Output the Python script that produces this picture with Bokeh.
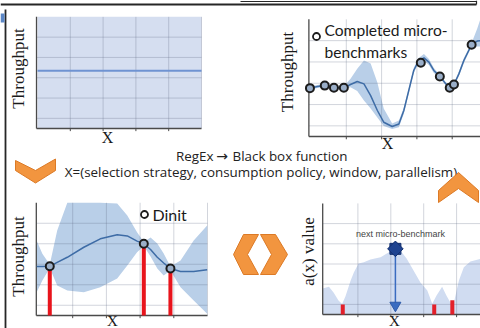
from math import pi
from bokeh.plotting import figure
from bokeh.models import Range1d
from bokeh.core.properties import value
from bokeh.embed import file_html
from bokeh.resources import INLINE

# ---------------- data ----------------
# Panel 1: prior model, flat mean with full uncertainty
p1_x = [0.0, 5.0]
p1_mean = [2.85, 2.85]
p1_lower = [0.0, 0.0]
p1_upper = [5.5, 5.5]

# Panel 2: completed micro-benchmarks and fitted model
p2_pts_x = [-0.03, 0.39, 0.65, 0.93, 3.11, 3.65, 3.93, 4.05, 4.55]
p2_pts_y = [2.27, 2.39, 2.29, 2.29, 3.46, 2.82, 2.29, 2.44, 4.31]
p2_x = [-0.03, 0.18, 0.39, 0.65, 0.93, 1.12, 1.31, 1.50, 1.69, 1.88, 2.06, 2.30,
        2.49, 2.63, 2.77, 2.91, 3.05, 3.20, 3.34, 3.48, 3.65, 3.82, 3.93, 4.05,
        4.19, 4.33, 4.55, 4.71, 4.86]
p2_mean = [2.27, 2.35, 2.39, 2.29, 2.29, 2.44, 2.58, 2.47, 1.92, 1.22, 0.67, 0.47,
           0.59, 1.22, 2.16, 3.10, 3.57, 3.69, 3.49, 3.10, 2.82, 2.47, 2.29, 2.44,
           2.94, 3.57, 4.31, 4.48, 4.51]
p2_upper = [2.34, 2.42, 2.46, 2.36, 2.36, 2.71, 3.18, 3.57, 3.43, 2.54, 1.31, 0.61,
            0.75, 1.36, 2.28, 3.22, 3.69, 3.87, 3.64, 3.22, 2.89, 2.56, 2.36, 2.51,
            3.05, 3.69, 4.39, 5.07, 5.82]
p2_lower = [2.20, 2.28, 2.32, 2.22, 2.22, 2.31, 2.14, 1.69, 1.31, 0.89, 0.49, 0.35,
            0.44, 1.07, 2.04, 2.98, 3.45, 3.54, 3.36, 2.98, 2.75, 2.39, 2.22, 2.37,
            2.84, 3.45, 4.23, 4.23, 4.23]

# Panel 3: initial design D_init and model
p3_pts_x = [0.32, 3.11, 3.90]
p3_pts_y = [2.40, 3.50, 2.29]
p3_x = [-0.07, 0.10, 0.32, 0.54, 0.84, 1.33, 1.82, 2.32, 2.62, 2.91, 3.11, 3.31,
        3.51, 3.70, 3.90, 4.20, 4.59, 4.99]
p3_mean = [2.39, 2.39, 2.40, 2.59, 2.84, 3.33, 3.74, 3.94, 3.88, 3.63, 3.50, 3.22,
           2.84, 2.56, 2.29, 2.15, 2.15, 2.23]
p3_upper = [3.66, 3.01, 2.49, 4.15, 5.50, 5.50, 5.50, 5.46, 4.88, 4.06, 3.59, 3.80,
            3.51, 3.02, 2.39, 2.68, 3.66, 4.39]
p3_lower = [1.14, 1.71, 2.32, 1.46, 1.22, 1.14, 1.38, 1.80, 2.44, 3.09, 3.39, 2.88,
            2.29, 1.95, 2.20, 1.38, 0.73, 0.08]

# Panel 4: acquisition function a(x)
p4_x = [-0.07, 0.12, 0.26, 0.41, 0.52, 0.62, 0.78, 0.88, 1.02, 1.18, 1.38, 1.69,
        1.93, 2.14, 2.29, 2.48, 2.70, 2.90, 3.11, 3.26, 3.39, 3.56, 3.69, 3.81,
        3.91, 4.07, 4.22, 4.42, 4.73, 4.95]
p4_acq = [1.29, 1.37, 1.09, 0.69, 0.52, 0.89, 1.68, 2.09, 2.52, 2.59, 2.72, 2.84,
          3.07, 3.25, 3.17, 2.77, 2.15, 1.58, 1.19, 0.53, 0.94, 1.37, 0.94, 0.59,
          0.53, 1.68, 2.34, 2.62, 2.76, 2.80]
p4_bars_x = [0.54, 3.32, 3.87]
p4_bars_h = [0.50, 0.50, 0.70]
p4_next_x = [2.14]
p4_next_y = [3.25]

# ---------------- layout (image pixel frame) ----------------
W, H = 480.0, 328.0


def Y(iy):
    return H - iy


# x0, px per x unit, y0 (pixel row of value 0), px per y unit, left edge, right edge
panels = {
    "p1": dict(x0=37.0, sx=32.8, y0=128.0, sy=20.3, xl=-0.03, xr=5.0),
    "p2": dict(x0=310.5, sx=35.3, y0=136.0, sy=21.3, xl=-0.06, xr=5.5),
    "p3": dict(x0=38.5, sx=33.7, y0=315.0, sy=20.5, xl=-0.08, xr=5.0),
    "p4": dict(x0=324.5, sx=32.9, y0=314.0, sy=20.2, xl=-0.07, xr=5.5),
}

p = figure(width=480, height=328, x_range=Range1d(0, W), y_range=Range1d(0, H),
           min_border=0, toolbar_location=None, output_backend="svg",
           x_axis_location=None, y_axis_location=None,
           background_fill_color="white", border_fill_color="white",
           outline_line_color=None)
p.grid.visible = False

SERIF = value("Liberation Serif")
SANS = value("Lato")
GRID = "rgba(95,105,130,0.28)"
AXIS = "#4a4a4a"
BAND = "#b9cfe8"
LINE = "#3e6ca6"


def sub_of(k):
    g = panels[k]
    return p.subplot(x_source=Range1d(0, 1), y_source=Range1d(0, 1),
                     x_target=Range1d(g["x0"], g["x0"] + g["sx"]),
                     y_target=Range1d(Y(g["y0"]), Y(g["y0"]) + g["sy"]))


def frame(s, k, right_line=True):
    g = panels[k]
    xl, xr = g["xl"], g["xr"]
    gx = [1, 2, 3, 4] + ([5] if right_line else [])
    s.segment(x0=gx, y0=[0] * len(gx), x1=gx, y1=[5.5] * len(gx),
              line_color=GRID, line_width=1)
    gy = [0.5, 1.5, 2.5, 3.5, 4.5]
    s.segment(x0=[xl] * 5, y0=gy, x1=[xr] * 5, y1=gy, line_color=GRID, line_width=1)
    s.segment(x0=[xl, xl], y0=[0, 0], x1=[xr, xl], y1=[0, 5.5],
              line_color=AXIS, line_width=1.3)
    tx = [1, 2, 3, 4]
    s.segment(x0=tx, y0=[0] * 4, x1=tx, y1=[-0.13] * 4, line_color=AXIS, line_width=1)


def label(ix, iy, txt, font, size, angle=0.0, color="#1a1a1a", align="center"):
    p.text(x=[ix], y=[Y(iy)], text=[txt], text_font=font, text_font_size=size,
           angle=angle, text_align=align, text_baseline="middle", text_color=color)


# ---- slide frame ----
p.segment(x0=[0, 240, 476, 5], y0=[Y(4), Y(1), Y(0), Y(9)],
          x1=[476, 476, 476, 5], y1=[Y(4), Y(1), Y(4), Y(328)],
          line_color="#262626", line_width=[1.8, 1.0, 1.2, 1.8])
p.quad(left=[0], right=[4], top=[Y(13)], bottom=[Y(22)], fill_color="#5b86c5",
       line_color=None)

# ---- panel 1 ----
s1 = sub_of("p1")
s1.varea(x=p1_x, y1=p1_lower, y2=p1_upper, fill_color="#d5def0")
frame(s1, "p1")
s1.line(p1_x, p1_mean, line_color="#6f93d2", line_width=2)
label(18, 68, "Throughput", SERIF, "17px", angle=pi / 2)
label(107, 137, "X", SERIF, "16px")

# ---- panel 2 ----
s2 = sub_of("p2")
s2.varea(x=p2_x, y1=p2_lower, y2=p2_upper, fill_color=BAND)
frame(s2, "p2", right_line=False)
s2.line(p2_x, p2_mean, line_color=LINE, line_width=1.5)
s2.scatter(p2_pts_x, p2_pts_y, size=8, fill_color="#9aaec8", line_color="#1c1c1c",
           line_width=2)
p.scatter([316], [Y(36)], size=7, fill_color="white", line_color="#1c1c1c", line_width=1.8)
label(324, 29, "Completed micro-", SANS, "15.6px", align="left")
label(324, 51, "benchmarks", SANS, "15.6px", align="left")
label(286.5, 71.5, "Throughput", SERIF, "17px", angle=pi / 2)
label(387, 143, "X", SERIF, "16px")

# ---- panel 3 ----
s3 = sub_of("p3")
s3.varea(x=p3_x, y1=p3_lower, y2=p3_upper, fill_color=BAND)
frame(s3, "p3")
s3.segment(x0=p3_pts_x, y0=[0] * 3, x1=p3_pts_x, y1=p3_pts_y, line_color="#e8141c",
           line_width=4)
s3.line(p3_x, p3_mean, line_color=LINE, line_width=1.5)
s3.scatter(p3_pts_x, p3_pts_y, size=8, fill_color="#9aaec8", line_color="#1c1c1c",
           line_width=2)
p.scatter([144], [Y(214)], size=7, fill_color="white", line_color="#1c1c1c", line_width=1.8)
label(152, 214, "Dinit", SANS, "16px", align="left")
label(18, 256, "Throughput", SERIF, "17px", angle=pi / 2)
label(112, 320.5, "X", SERIF, "15px")

# ---- panel 4 ----
s4 = sub_of("p4")
s4.varea(x=p4_x, y1=[0] * len(p4_x), y2=p4_acq, fill_color="#d0dcf1")
frame(s4, "p4", right_line=False)
s4.segment(x0=p4_bars_x, y0=[0] * 3, x1=p4_bars_x, y1=p4_bars_h, line_color="#e3202a",
           line_width=4)
s4.segment(x0=p4_next_x, y0=p4_next_y, x1=p4_next_x, y1=[0.35], line_color="#3a6cc0",
           line_width=1.5)
s4.scatter(p4_next_x, [0.45], marker="inverted_triangle", size=11, fill_color="#3a6cc0",
           line_color="#2d5aa8")
s4.scatter(p4_next_x * 2, p4_next_y * 2, marker="square", angle=[0, pi / 4], size=11,
           fill_color="#1f4390", line_color="#14306e", line_width=1)
label(400, 233.5, "next micro-benchmark", value("Liberation Sans"), "9px", color="#444444")
label(308, 251, "a(x) value", SERIF, "17px", angle=pi / 2)
label(394, 320.5, "X", SERIF, "15px")

# ---- middle text ----
MID = value("Open Sans")
label(213, 155, "RegEx", MID, "13.4px", color="#222222", align="right")
label(221.5, 155, "\u2192", value("DejaVu Sans"), "14px", color="#222222")
label(232, 155, "Black box function", MID, "13.4px", color="#222222", align="left")
label(260.5, 171.7, "X=(selection strategy, consumption policy, window, parallelism)",
      MID, "13.4px", color="#222222")

# ---- chevrons ----
ORANGE = "#f2953f"
EDGE = "#dc7a26"
down_chev_x = [15, 35, 55, 55, 35, 15]
down_chev_y = [160, 170, 158.5, 170, 182.5, 170]
up_chev_x = [438, 458, 478, 478, 458, 438]
up_chev_y = [190, 172, 190, 202, 188, 202]
left_chev_x = [243, 258, 247, 258, 243, 233]
left_chev_y = [234, 234, 254, 274, 274, 254]
right_chev_x = [260, 275, 287, 275, 260, 271]
right_chev_y = [234, 234, 254, 274, 274, 254]
for cx, cy in [(down_chev_x, down_chev_y), (up_chev_x, up_chev_y),
               (left_chev_x, left_chev_y), (right_chev_x, right_chev_y)]:
    p.patch(cx, [Y(v) for v in cy], fill_color=ORANGE, line_color=EDGE, line_width=1)

open("out.html", "w").write(file_html(p, INLINE))
